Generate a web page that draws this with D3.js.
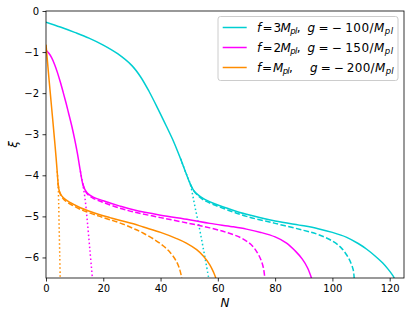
<!DOCTYPE html>
<html>
<head>
<meta charset="utf-8">
<script src="https://cdn.jsdelivr.net/npm/d3@7"></script>
<style>
  body { margin: 0; background: #fff; }
  svg { display: block; }
  text { font-family: "DejaVu Sans", sans-serif; }
</style>
</head>
<body>
<svg width="415" height="318"></svg>
<script>
// tick values
var xTicks = [0, 20, 40, 60, 80, 100, 120];
var yTicks = [0, -1, -2, -3, -4, -5, -6];

// [N, xi]
var cyanSolid = [[0,-0.27],[5,-0.39],[10,-0.52],[15,-0.66],[20,-0.83],[25,-1.04],[30,-1.33],[33,-1.6],[36,-1.96],
  [39,-2.37],[42,-2.8],[44.5,-3.17],[47,-3.6],[49,-3.97],[50.3,-4.2],[51.5,-4.36],[53,-4.47],[55,-4.57],[58.4,-4.68],
  [63.6,-4.81],[70,-4.95],[80,-5.11],[90,-5.23],[95,-5.3],[100,-5.39],[105,-5.51],[109,-5.66],[112,-5.8],
  [115,-5.97],[117.5,-6.13],[119.5,-6.29],[121,-6.43],[121.6,-6.5]];
var cyanDashed = [[50.3,-4.2],[51.5,-4.37],[53,-4.49],[55,-4.6],[58.4,-4.71],[63.6,-4.85],[70,-5.0],[80,-5.17],
  [90,-5.34],[95,-5.44],[100,-5.6],[103,-5.76],[105,-5.94],[106.5,-6.14],[107.3,-6.31],[107.6,-6.5]];
var cyanDotted = [[47,-3.6],[49,-3.97],[50.3,-4.2],[52,-4.76],[54,-5.44],[56.8,-6.5]];

var magentaSolid = [[0,-0.95],[1,-1.03],[2,-1.14],[3,-1.3],[4,-1.5],[5,-1.73],[6,-1.98],[7,-2.24],[8,-2.52],
  [9,-2.8],[10,-3.12],[11,-3.48],[12,-3.9],[12.8,-4.2],[13.6,-4.35],[14.5,-4.44],[16.5,-4.53],[20,-4.62],
  [25.8,-4.75],[30.5,-4.84],[40,-4.97],[50,-5.08],[57.2,-5.17],[65,-5.25],[70,-5.31],[75,-5.39],[80,-5.5],
  [84,-5.65],[87,-5.84],[89.5,-6.04],[91.3,-6.25],[92.7,-6.5]];
var magentaDashed = [[12.8,-4.2],[13.6,-4.36],[14.5,-4.46],[16.5,-4.56],[20,-4.66],[25.8,-4.8],[30.5,-4.89],
  [40,-5.03],[50,-5.17],[57.2,-5.28],[63,-5.39],[68,-5.52],[71.5,-5.68],[73.5,-5.85],[75,-6.05],[75.9,-6.25],
  [76.4,-6.5]];
var magentaDotted = [[12,-3.9],[12.8,-4.2],[13.6,-4.55],[14.4,-5.1],[15.3,-5.8],[16.2,-6.5]];

var orangeSolid = [[0,-0.82],[0.5,-1.22],[1,-1.62],[1.5,-2.0],[2,-2.38],[2.5,-2.76],[3,-3.15],[3.5,-3.55],
  [3.9,-3.9],[4.2,-4.18],[4.6,-4.37],[5.2,-4.47],[6,-4.54],[7.5,-4.62],[9.5,-4.7],[12,-4.79],[15.4,-4.88],
  [18.8,-4.96],[22.3,-5.03],[26,-5.1],[30.5,-5.18],[34,-5.26],[40,-5.39],[45.6,-5.54],[49,-5.65],[52.6,-5.81],
  [55,-5.97],[57.2,-6.18],[58.5,-6.36],[59.3,-6.5]];
var orangeDashed = [[4.2,-4.18],[4.6,-4.38],[5.2,-4.49],[6,-4.57],[7.5,-4.66],[9.5,-4.74],[12,-4.83],
  [15.4,-4.92],[18.8,-5.0],[22.3,-5.08],[27,-5.19],[31,-5.31],[34,-5.41],[38,-5.57],[41,-5.72],[43.5,-5.89],
  [45.4,-6.08],[46.6,-6.27],[47.4,-6.5]];
var orangeDotted = [[3.9,-3.9],[4.2,-4.18],[4.4,-4.6],[4.6,-5.3],[4.8,-5.95],[4.95,-6.5]];

// legend labels, [text, style] pieces: 1 = italic, 2 = italic subscript
var legendF = [
  [["f",1],["\u2009=\u20093"],["M",1],["pl",2],[","]],
  [["f",1],["\u2009=\u20092"],["M",1],["pl",2],[","]],
  [["f",1],["\u2009=\u2009"],["M",1],["pl",2],[","]]
];
var legendG = [
  [["g",1],["\u2009=\u2009\u2212\u2009100/"],["M",1],["pl",2]],
  [["g",1],["\u2009=\u2009\u2212\u2009150/"],["M",1],["pl",2]],
  [["g",1],["\u2009=\u2009\u2212\u2009200/"],["M",1],["pl",2]]
];

var colors = ["#00ced1", "#ff00ff", "#ff8c00"];

var svg = d3.select("svg"),
  margin = {top: 11, right: 11, bottom: 40, left: 46},
  width = +svg.attr("width") - margin.left - margin.right,
  height = +svg.attr("height") - margin.top - margin.bottom,
  g = svg.append("g").attr("transform", "translate(" + margin.left + "," + margin.top + ")");

var x = d3.scaleLinear().domain([0, 125]).range([0, width]);
var y = d3.scaleLinear().domain([-6.5, 0]).range([height, 0]);

g.append("clipPath").attr("id", "clip")
  .append("rect").attr("width", width).attr("height", height);

var line = d3.line()
  .x(function(d) { return x(d[0]); })
  .y(function(d) { return y(d[1]); })
  .curve(d3.curveCatmullRom.alpha(0.5));

var series = [
  {data: cyanDotted, color: colors[0], dash: "1.5,2.5"},
  {data: cyanDashed, color: colors[0], dash: "5.5,2.4"},
  {data: cyanSolid, color: colors[0], dash: null},
  {data: magentaDotted, color: colors[1], dash: "1.5,2.5"},
  {data: magentaDashed, color: colors[1], dash: "5.5,2.4"},
  {data: magentaSolid, color: colors[1], dash: null},
  {data: orangeDotted, color: colors[2], dash: "1.5,2.5"},
  {data: orangeDashed, color: colors[2], dash: "5.5,2.4"},
  {data: orangeSolid, color: colors[2], dash: null}
];

g.append("g").attr("clip-path", "url(#clip)")
  .selectAll("path").data(series).enter().append("path")
  .attr("fill", "none")
  .attr("stroke", function(d) { return d.color; })
  .attr("stroke-width", 1.5)
  .attr("stroke-dasharray", function(d) { return d.dash; })
  .attr("d", function(d) { return line(d.data); });

// axes
var xAxis = g.append("g")
  .attr("transform", "translate(0," + height + ")")
  .call(d3.axisBottom(x).tickValues(xTicks).tickSize(3.5).tickPadding(3.5));
var yAxis = g.append("g")
  .call(d3.axisLeft(y).tickValues(yTicks).tickSize(3.5).tickPadding(3.5).tickFormat(d3.format("d")));
[xAxis, yAxis].forEach(function(a) {
  a.select(".domain").remove();
  a.selectAll("line").attr("stroke", "#000").attr("stroke-width", 0.8);
  a.selectAll("text").attr("fill", "#000").style("font-size", "10px")
    .style("font-family", "'DejaVu Sans', sans-serif");
});

g.append("rect")
  .attr("width", width).attr("height", height)
  .attr("fill", "none").attr("stroke", "#000").attr("stroke-width", 0.8);

svg.append("text")
  .attr("x", margin.left + width / 2).attr("y", 307)
  .attr("text-anchor", "middle")
  .style("font-size", "12px").style("font-style", "italic")
  .text("N");

svg.append("text")
  .attr("transform", "translate(17," + (margin.top + height / 2) + ") rotate(-90)")
  .attr("text-anchor", "middle")
  .style("font-size", "12px").style("font-style", "italic")
  .text("\u03be");

// legend
var leg = svg.append("g").attr("transform", "translate(218,16.5)");
leg.append("rect")
  .attr("width", 180).attr("height", 64).attr("rx", 2.5)
  .attr("fill", "#fff").attr("fill-opacity", 0.8)
  .attr("stroke", "#cccccc").attr("stroke-width", 1);

function addPieces(textSel, pieces) {
  var sub = false;
  pieces.forEach(function(p) {
    var t = textSel.append("tspan").text(p[0]);
    if (p[1]) t.style("font-style", "italic");
    if (p[1] === 2) { t.style("font-size", "8.5px").attr("dy", 2.5); sub = true; }
    else if (sub) { t.attr("dy", -2.5); sub = false; }
  });
}

// squeeze or stretch a text to the width it has in the picture
function fitWidth(textSel, target) {
  var n = textSel.text().length;
  var w = textSel.node().getComputedTextLength();
  textSel.style("letter-spacing", ((target - w) / n) + "px");
}

var fWidth = [43, 43, 35], gLeft = [89.5, 89.5, 92], gWidth = [86, 86, 84];

colors.forEach(function(c, i) {
  var cy = 11 + i * 20;
  leg.append("line")
    .attr("x1", 4.7).attr("x2", 28.7).attr("y1", cy).attr("y2", cy)
    .attr("stroke", c).attr("stroke-width", 1.5);
  var t1 = leg.append("text").attr("x", 39).attr("y", cy + 4.3).style("font-size", "12px");
  addPieces(t1, legendF[i]);
  fitWidth(t1, fWidth[i]);
  var t2 = leg.append("text").attr("x", gLeft[i]).attr("y", cy + 4.3).style("font-size", "12px");
  addPieces(t2, legendG[i]);
  fitWidth(t2, gWidth[i]);
});
</script>
</body>
</html>
